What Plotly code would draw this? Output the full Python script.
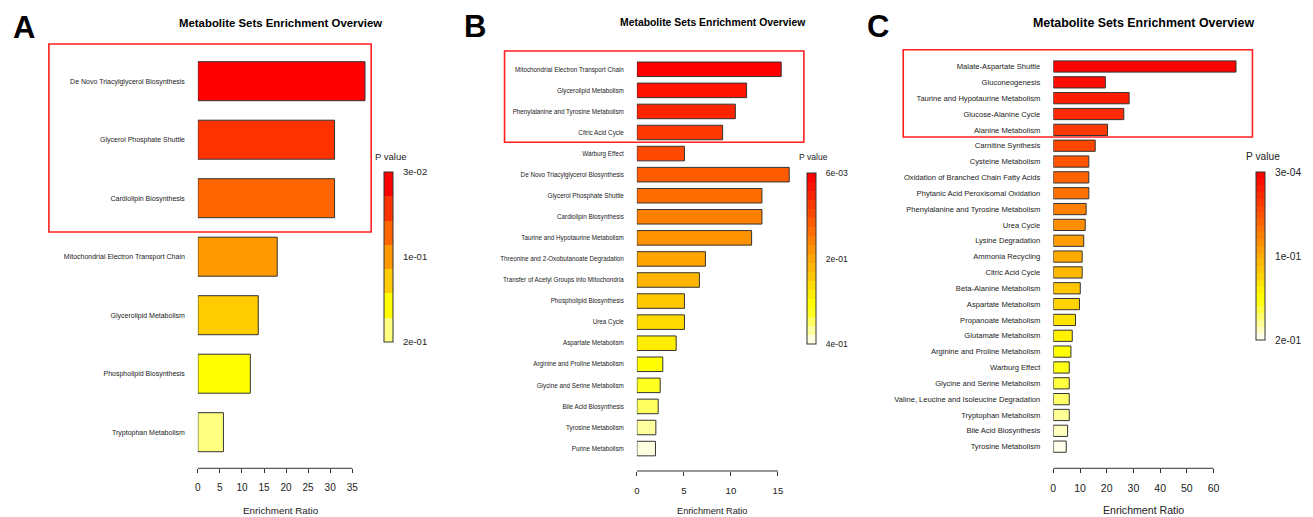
import colorsys
import plotly.graph_objects as go

# ---------------- data ----------------
A_names = ["De Novo Triacylglycerol Biosynthesis", "Glycerol Phosphate Shuttle",
           "Cardiolipin Biosynthesis", "Mitochondrial Electron Transport Chain",
           "Glycerolipid Metabolism", "Phospholipid Biosynthesis", "Tryptophan Metabolism"]
A_ratio = [37.9, 31.0, 31.0, 18.0, 13.7, 11.9, 5.8]
A_pticks = ["2e-01", "1e-01", "3e-02"]
A_xticks = [0, 5, 10, 15, 20, 25, 30, 35]

B_names = ["Mitochondrial Electron Transport Chain", "Glycerolipid Metabolism",
           "Phenylalanine and Tyrosine Metabolism", "Citric Acid Cycle", "Warburg Effect",
           "De Novo Triacylglycerol Biosynthesis", "Glycerol Phosphate Shuttle",
           "Cardiolipin Biosynthesis", "Taurine and Hypotaurine Metabolism",
           "Threonine and 2-Oxobutanoate Degradation", "Transfer of Acetyl Groups into Mitochondria",
           "Phospholipid Biosynthesis", "Urea Cycle", "Aspartate Metabolism",
           "Arginine and Proline Metabolism", "Glycine and Serine Metabolism",
           "Bile Acid Biosynthesis", "Tyrosine Metabolism", "Purine Metabolism"]
B_ratio = [15.35, 11.67, 10.47, 9.12, 5.06, 16.2, 13.3, 13.3, 12.2, 7.29, 6.65,
           5.06, 5.06, 4.18, 2.76, 2.48, 2.27, 2.02, 1.98]
B_pticks = ["4e-01", "2e-01", "6e-03"]
B_xticks = [0, 5, 10, 15]

C_names = ["Malate-Aspartate Shuttle", "Gluconeogenesis", "Taurine and Hypotaurine Metabolism",
           "Glucose-Alanine Cycle", "Alanine Metabolism", "Carnitine Synthesis",
           "Cysteine Metabolism", "Oxidation of Branched Chain Fatty Acids",
           "Phytanic Acid Peroxisomal Oxidation", "Phenylalanine and Tyrosine Metabolism",
           "Urea Cycle", "Lysine Degradation", "Ammonia Recycling", "Citric Acid Cycle",
           "Beta-Alanine Metabolism", "Aspartate Metabolism", "Propanoate Metabolism",
           "Glutamate Metabolism", "Arginine and Proline Metabolism", "Warburg Effect",
           "Glycine and Serine Metabolism", "Valine, Leucine and Isoleucine Degradation",
           "Tryptophan Metabolism", "Bile Acid Biosynthesis", "Tyrosine Metabolism"]
C_ratio = [68.4, 19.5, 28.4, 26.4, 20.3, 15.7, 13.3, 13.3, 13.3, 12.3, 11.95, 11.4,
           10.8, 10.8, 10.1, 9.8, 8.3, 7.1, 6.6, 5.98, 5.98, 5.98, 5.98, 5.35, 4.85]
C_pticks = ["2e-01", "1e-01", "3e-04"]
C_xticks = [0, 10, 20, 30, 40, 50, 60]

TITLE = "Metabolite Sets Enrichment Overview"
XTITLE = "Enrichment Ratio"

# ---------------- helpers ----------------
W, H = 1313, 517
FONT = "Liberation Sans, Arial, sans-serif"


def px(x):
    return x / W


def py(y):
    return 1 - y / H


def heat_colors(n):
    j = n // 4
    i = n - j
    cols = []
    for k in range(i):
        h = (1 / 6) * k / (i - 1) if i > 1 else 0
        cols.append(colorsys.hsv_to_rgb(h, 1, 1))
    if j > 0:
        s0, s1 = 1 - 1 / (2 * j), 1 / (2 * j)
        for k in range(j):
            s = s0 + (s1 - s0) * k / (j - 1) if j > 1 else s0
            cols.append(colorsys.hsv_to_rgb(1 / 6, s, 1))
    return ["rgb(%d,%d,%d)" % tuple(round(c * 255) for c in rgb) for rgb in cols]


panels = [
    dict(letter="A", names=A_names, vals=A_ratio, pticks=A_pticks, xticks=A_xticks,
         xr=38.5, x0=195.3, ppu=4.42, top=44, axis=468.3, c0=81.2, sp=58.5, bw=0.667,
         yfont=7, tfont=10, title_font=11.4, title_x=278.3, letter_x=20.8, letter_y=28,
         cb_x=382.3, cb_top=171.7, cb_bot=341.7, cbfont=9.5, pv_x=371, pv_y=156.7,
         xt_x=278.3, xt_y=510, xt_font=9.8, box=(46, 44, 369, 232)),
    dict(letter="B", names=B_names, vals=B_ratio, pticks=B_pticks, xticks=B_xticks,
         xr=16.5, x0=635.3, ppu=9.427, top=51, axis=471, c0=69.3, sp=21.07, bw=0.69,
         yfont=6.3, tfont=9.6, title_font=10.4, title_x=711.3, letter_x=473.3, letter_y=26,
         cb_x=805.7, cb_top=173.3, cb_bot=344, cbfont=8.6, pv_x=795.7, pv_y=157,
         xt_x=710.8, xt_y=510.5, xt_font=9.2, box=(502.7, 51, 802.7, 142.3)),
    dict(letter="C", names=C_names, vals=C_ratio, pticks=C_pticks, xticks=C_xticks,
         xr=70, x0=1052.7, ppu=2.677, top=49.7, axis=468.3, c0=66.5, sp=15.84, bw=0.71,
         yfont=7.6, tfont=10.5, title_font=12.4, title_x=1143.3, letter_x=877.2, letter_y=26,
         cb_x=1256, cb_top=172.3, cb_bot=340.7, cbfont=10.2, pv_x=1244, pv_y=156.3,
         xt_x=1143, xt_y=509.5, xt_font=10.6, box=(902.3, 49.7, 1252.3, 137)),
]

fig = go.Figure()
shapes = []
annotations = []
layout_axes = {}

for k, p in enumerate(panels):
    n = len(p["names"])
    cols = heat_colors(n)
    # discrete colour scale: bottom (value 0) = lightest, top = red
    cs = []
    for b in range(n):
        c = cols[n - 1 - b]
        cs.append([b / n, c])
        cs.append([(b + 1) / n, c])
    values = [n - 1 - i for i in range(n)]
    sfx = "" if k == 0 else str(k + 1)
    cb_len = p["cb_bot"] - p["cb_top"]
    fig.add_trace(go.Bar(
        x=p["vals"], y=p["names"], orientation="h", width=p["bw"],
        xaxis="x" + sfx, yaxis="y" + sfx,
        marker=dict(color=values, colorscale=cs, cmin=-0.5, cmax=n - 0.5,
                    line=dict(color="#333333", width=1),
                    showscale=True,
                    colorbar=dict(x=px(p["cb_x"]), xanchor="left", xpad=0,
                                  y=py(p["cb_top"]), yanchor="top", ypad=0,
                                  lenmode="pixels", len=cb_len, thickness=9,
                                  outlinewidth=1, outlinecolor="#333333",
                                  tickmode="array",
                                  tickvals=[-0.5, (n - 1) / 2, n - 0.5],
                                  ticktext=p["pticks"],
                                  ticks="outside", ticklen=8, tickcolor="rgba(0,0,0,0)",
                                  tickfont=dict(size=p["cbfont"], color="#222", family=FONT))),
        hoverinfo="x+y", showlegend=False,
    ))
    xd0 = p["x0"]
    xd1 = p["x0"] + p["xr"] * p["ppu"]
    ytop_idx = (p["top"] - p["c0"]) / p["sp"]
    ybot_idx = (p["axis"] - p["c0"]) / p["sp"]
    layout_axes["xaxis" + sfx] = dict(
        domain=[px(xd0), px(xd1)], range=[0, p["xr"]], anchor="y" + sfx,
        tickmode="array", tickvals=p["xticks"], ticks="outside", ticklen=4,
        tickcolor="#333333", tickwidth=1, showline=False, showgrid=False, zeroline=False,
        tickfont=dict(size=p["tfont"], color="#222", family=FONT), ticklabelstandoff=6)
    layout_axes["yaxis" + sfx] = dict(
        domain=[py(p["axis"]), py(p["top"])], range=[ybot_idx, ytop_idx], anchor="x" + sfx,
        type="category", categoryorder="array", categoryarray=p["names"],
        showline=False, showgrid=False, zeroline=False, ticks="",
        tickfont=dict(size=p["yfont"], color="#222", family=FONT), ticklabelstandoff=12)
    # axis line spanning first to last tick (R style)
    shapes.append(dict(type="line", xref="x" + sfx, yref="paper",
                       x0=p["xticks"][0], x1=p["xticks"][-1],
                       y0=py(p["axis"]), y1=py(p["axis"]),
                       line=dict(color="#333333", width=1)))
    # red highlight box
    bx0, by0, bx1, by1 = p["box"]
    shapes.append(dict(type="rect", xref="paper", yref="paper",
                       x0=px(bx0), x1=px(bx1), y0=py(by1), y1=py(by0),
                       line=dict(color="#ff1f1f", width=1.6)))
    annotations += [
        dict(text="<b>%s</b>" % p["letter"], x=px(p["letter_x"]), y=py(p["letter_y"]),
             xref="paper", yref="paper", showarrow=False, xanchor="center", yanchor="middle",
             font=dict(size=31, color="black", family=FONT)),
        dict(text="<b>%s</b>" % TITLE, x=px(p["title_x"]), y=py(23), xref="paper", yref="paper",
             showarrow=False, xanchor="center", yanchor="middle",
             font=dict(size=p["title_font"], color="black", family=FONT)),
        dict(text=XTITLE, x=px(p["xt_x"]), y=py(p["xt_y"]), xref="paper", yref="paper",
             showarrow=False, xanchor="center", yanchor="middle",
             font=dict(size=p["xt_font"], color="#222", family=FONT)),
        dict(text="P value", x=px(p["pv_x"]), y=py(p["pv_y"]), xref="paper", yref="paper",
             showarrow=False, xanchor="left", yanchor="middle",
             font=dict(size=p["cbfont"], color="#222", family=FONT)),
    ]

fig.update_layout(
    width=W, height=H, margin=dict(l=0, r=0, t=0, b=0),
    paper_bgcolor="white", plot_bgcolor="white",
    font=dict(family=FONT, color="#222"),
    shapes=shapes, annotations=annotations, **layout_axes)

fig.write_html("out.html", config={"displayModeBar": False},
               post_script="document.body.style.margin='0px';document.body.style.overflow='hidden';")
